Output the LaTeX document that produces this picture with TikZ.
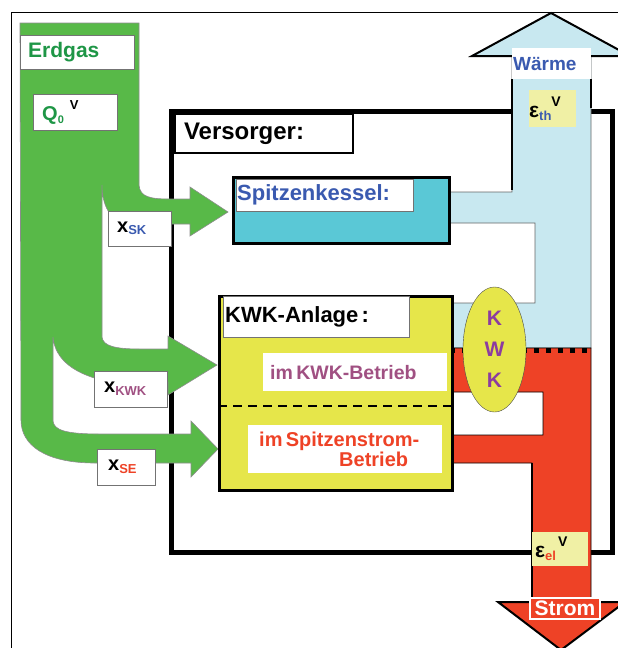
\documentclass[tikz,border=0pt]{standalone}
\usepackage{fontspec}
\setmainfont{Liberation Sans}
\usetikzlibrary{shapes.geometric}
\definecolor{gasgreen}{RGB}{88,185,72}
\definecolor{gastext}{RGB}{30,150,70}
\definecolor{heatblue}{RGB}{200,232,240}
\definecolor{skcyan}{RGB}{90,200,214}
\definecolor{kwkyellow}{RGB}{230,230,74}
\definecolor{epsyellow}{RGB}{240,240,165}
\definecolor{elred}{RGB}{238,66,38}
\definecolor{txtblue}{RGB}{58,90,176}
\definecolor{txtpurple}{RGB}{160,80,130}
\definecolor{kwkviolet}{RGB}{140,60,160}
\newcommand\fsz[1]{\fontsize{#1}{#1}\selectfont}
\begin{document}
\begin{tikzpicture}[x=1pt,y=-1pt,font=\bfseries,
	lbl/.style={draw=black!55,fill=white,anchor=north west,inner ysep=0pt,align=left},
	epsbox/.style={fill=epsyellow,anchor=north west,inner ysep=0pt,align=left}]
	\useasboundingbox (0,0) rectangle (618,648);
	%\draw[step=10,gray!20] (0,0) grid (618,648); %Hilfsgitter
	\draw[line width=0.8pt] (11,660) -- (11,12) -- (640,12);
	\draw[line width=5pt] (171.5,111.5) rectangle (612.5,552);
	% Erdgas
	\fill[gasgreen,draw=black!45,line width=0.6pt] (20,23) -- (139,23) -- (139,185) ..controls(140,197) and (150,199).. (170,199) -- (190,199) -- (190,187) -- (228,212) -- (190,236) -- (190,224) -- (125,224) ..controls(110,220) and (102,205).. (102,185) -- (102,337) ..controls(103,346) and (115,349).. (140,349) -- (168,349) -- (168,336) -- (217,365) -- (168,395) -- (168,382) -- (110,382) ..controls(75,375) and (55,360).. (53,337) -- (53,421) ..controls(54,430) and (65,434).. (100,434) -- (191,434) -- (191,421) -- (218,449) -- (191,477) -- (191,463) -- (95,463) ..controls(45,463) and (21,445).. (21,420) -- cycle;
	% Waerme
	\fill[heatblue,draw=black!60,line width=0.8pt] (512,56) -- (472,56) -- (551,13) -- (630,56) -- (591,56) -- (591,348) -- (450,348) -- (450,303) -- (535,303) -- (535,223) -- (448,223) -- (448,192) -- (512,192) -- cycle;
	\draw[line width=2pt] (512,56) -- (472,56) -- (551,13) -- (630,56) -- (591,56);
	\draw[line width=1.5pt] (512,79) -- (512,190) (591,79) -- (591,108);
	% Strom
	\fill[elred,draw=black,line width=0.8pt] (450,348) -- (591,348) -- (591,602) -- (625,602) -- (561,650) -- (498,602) -- (532,602) -- (532,463) -- (450,463) -- (450,435) -- (543,435) -- (543,392) -- (450,392) -- cycle;
	\draw[line width=2pt] (532,602) -- (498,602) -- (561,650) -- (625,602) -- (591,602);
	\draw[line width=1.5pt] (532,463) -- (532,602);
	\draw[line width=5pt,dash pattern=on 5pt off 7pt] (450,350) -- (591,350);
	% Anlagen
	\node[draw,line width=3pt,fill=skcyan,anchor=north west,minimum width=216pt,minimum height=66pt,inner sep=0pt] (sk) at (232,176) {};
	\node[draw,line width=3pt,fill=kwkyellow,anchor=north west,minimum width=233pt,minimum height=194pt,inner sep=0pt] (kwk) at (218,295) {};
	\draw[line width=2.5pt,dash pattern=on 9pt off 6pt] (kwk.west |- 0,406) -- (kwk.east |- 0,406);
	% Beschriftung
	\node[lbl,minimum width=114pt,minimum height=34pt,inner xsep=8pt,text width=98pt] (erdgas) at (20,35) {\fsz{21}\color{gastext}Erdgas};
	\node[lbl,minimum width=84pt,minimum height=36pt,inner xsep=9pt,text width=66pt] (q0) at (33,94) {\color{gastext}\fsz{20}Q\raisebox{-3pt}{\fsz{11}0}\hspace{6pt}\raisebox{11pt}{\color{black}\fsz{13}V}};
	\node[lbl,minimum width=63pt,minimum height=35pt,inner xsep=9pt,text width=45pt] (xsk) at (108,211) {\fsz{20}x\raisebox{-2pt}{\fsz{13}\color{txtblue}SK}};
	\node[lbl,minimum width=73pt,minimum height=36pt,inner xsep=10pt,text width=53pt] (xkwk) at (94,371) {\fsz{20}x\raisebox{-3pt}{\fsz{13}\color{txtpurple}KWK}};
	\node[lbl,minimum width=58pt,minimum height=36pt,inner xsep=11pt,text width=36pt] (xse) at (97,449) {\fsz{20}x\raisebox{-3pt}{\fsz{13}\color{elred}SE}};
	\node[lbl,draw=black,line width=2pt,minimum width=178pt,minimum height=39pt,inner xsep=9pt,text width=160pt] (versorger) at (174,113) {\fsz{24}Versorger:};
	\node[lbl,minimum width=177pt,minimum height=32pt,inner xsep=1pt,text width=175pt] (sklabel) at (236,179) {\fsz{22}\color{txtblue}Spitzenkessel:};
	\node[lbl,minimum width=186pt,minimum height=41pt,inner xsep=2pt,text width=182pt] (kwklabel) at (223,296) {\fsz{22}KWK-Anlage :};
	\node[lbl,draw=none,minimum width=184pt,minimum height=38pt,inner xsep=7pt,text width=170pt] (kwkbetrieb) at (263,353) {\fsz{19.5}\color{txtpurple}im KWK-Betrieb};
	\node[lbl,draw=none,minimum width=194pt,minimum height=48pt,inner xsep=11pt,text width=172pt] (sebetrieb) at (248,425) {\fontsize{20}{24}\selectfont\color{elred}im Spitzenstrom-\\\hspace*{80pt}Betrieb};
	\node[lbl,draw=none,minimum width=79pt,minimum height=31pt,inner xsep=1pt,text width=77pt] (waerme) at (512,48) {\fsz{19}\color{txtblue}Wärme};
	\node[epsbox,minimum width=47pt,minimum height=37pt,inner xsep=0pt,text width=47pt] (epsth) at (529,90) {\fsz{21}ε\raisebox{-3pt}{\fsz{13}\color{txtblue}th}\raisebox{11pt}{\fsz{14}V}};
	\node[epsbox,minimum width=56pt,minimum height=34pt,inner xsep=3pt,text width=50pt] (epsel) at (532,532) {\fsz{21}ε\raisebox{-3pt}{\fsz{13}\color{elred}el}\hspace{2pt}\raisebox{11pt}{\fsz{14}V}};
	\node[draw=white,line width=2pt,fill=elred,text=white,minimum width=70pt,minimum height=21pt,inner sep=0pt] (strom) at (565,608.5) {\fsz{21}Strom};
	\node[ellipse,draw=black!70,fill=kwkyellow,minimum width=63pt,minimum height=125pt,inner sep=0pt,align=center,text=kwkviolet,font=\bfseries\fontsize{21}{31}\selectfont] (kwkoval) at (494.5,349.5) {K\\W\\K};
\end{tikzpicture}
\end{document}
